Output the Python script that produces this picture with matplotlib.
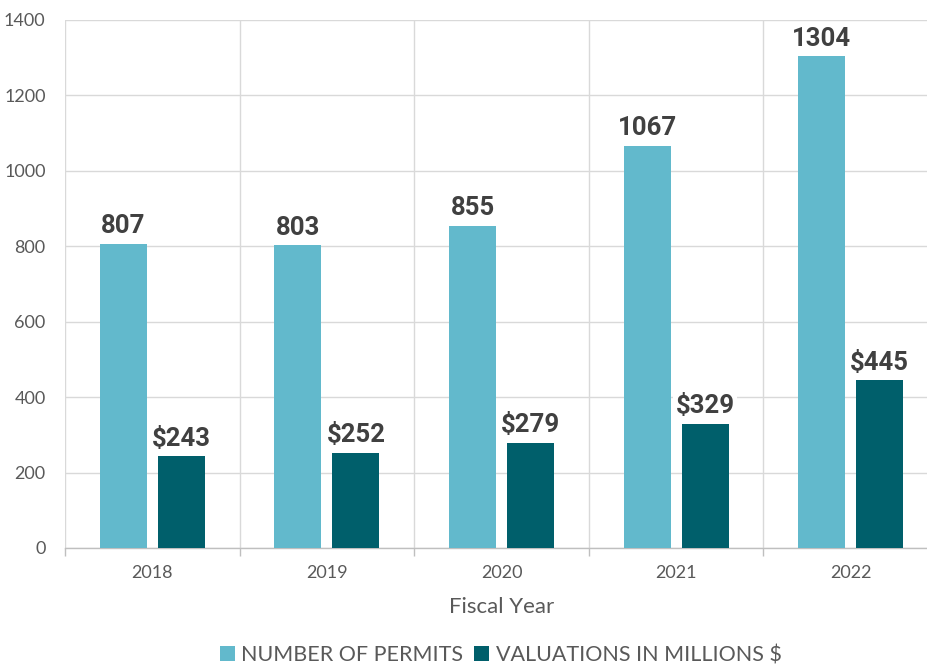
import matplotlib
matplotlib.use("Agg")
import matplotlib.pyplot as plt
import numpy as np

years = ["2018", "2019", "2020", "2021", "2022"]
permits = [807, 803, 855, 1067, 1304]
valuations = [243, 252, 279, 329, 445]
permit_labels = ["807", "803", "855", "1067", "1304"]
valuation_labels = ["$243", "$252", "$279", "$329", "$445"]

light = "#62B9CC"
dark = "#005F6B"
gray = "#595959"
grid = "#D9D9D9"

fig = plt.figure(figsize=(9.27, 6.67), dpi=100)
W, H = 927, 667
left, right, top, bottom = 65, 938, 20, 548
ax = fig.add_axes([left / W, 1 - bottom / H, (right - left) / W, (bottom - top) / H])

x = np.arange(len(years))
bw = 0.27
off = 0.166
b1 = ax.bar(x - off, permits, bw, color=light, zorder=3, label="NUMBER OF PERMITS")
b2 = ax.bar(x + off, valuations, bw, color=dark, zorder=3, label="VALUATIONS IN MILLIONS $")

lab_font = dict(family=["Roboto", "DejaVu Sans"], fontsize=18.5, fontweight="bold", color="#404040")
for rect, t in zip(b1, permit_labels):
    ax.annotate(t, (rect.get_x() + rect.get_width() / 2, rect.get_height()),
                xytext=(0, 4), textcoords="offset points", ha="center", va="bottom",
                bbox=dict(boxstyle="square,pad=0.1", fc="white", ec="none"), zorder=4, **lab_font)
for rect, t in zip(b2, valuation_labels):
    ax.annotate(t, (rect.get_x() + rect.get_width() / 2, rect.get_height()),
                xytext=(0, 4), textcoords="offset points", ha="center", va="bottom",
                bbox=dict(boxstyle="square,pad=0.1", fc="white", ec="none"), zorder=4, **lab_font)

ax.set_xlim(-0.5, len(years) - 0.5)
ax.set_ylim(0, 1400)
ax.set_yticks(np.arange(0, 1401, 200))
ax.set_xticks(x)
ax.set_xticklabels(years)
ax.set_xticks(np.arange(-0.5, len(years)), minor=True)

tick_font = ["Lato", "DejaVu Sans"]
for lbl in ax.get_xticklabels() + ax.get_yticklabels():
    lbl.set_family(tick_font)
    lbl.set_fontsize(13)
    lbl.set_color(gray)

ax.tick_params(axis="x", which="major", length=0, pad=12)
ax.tick_params(axis="x", which="minor", length=6, color="#BFBFBF", width=1)
ax.tick_params(axis="y", length=0, pad=14)

ax.grid(axis="y", which="major", color=grid, linewidth=1, zorder=0)
ax.grid(axis="x", which="minor", color=grid, linewidth=1, zorder=0)
ax.grid(axis="x", which="major", visible=False)

for s in ["top", "right", "left"]:
    ax.spines[s].set_visible(False)
ax.spines["bottom"].set_color("#BFBFBF")
ax.spines["bottom"].set_linewidth(1)

ax.set_xlabel("Fiscal Year", family=tick_font, fontsize=16, color=gray, labelpad=12)

leg = fig.legend(loc="center", bbox_to_anchor=(0.54, 1 - 655 / H), ncol=2, frameon=False,
                 prop={"family": tick_font, "size": 15.5}, handlelength=0.7, handleheight=0.7,
                 handletextpad=0.3, columnspacing=0.5)
for t in leg.get_texts():
    t.set_color(gray)

fig.savefig("out.png", dpi=100)
